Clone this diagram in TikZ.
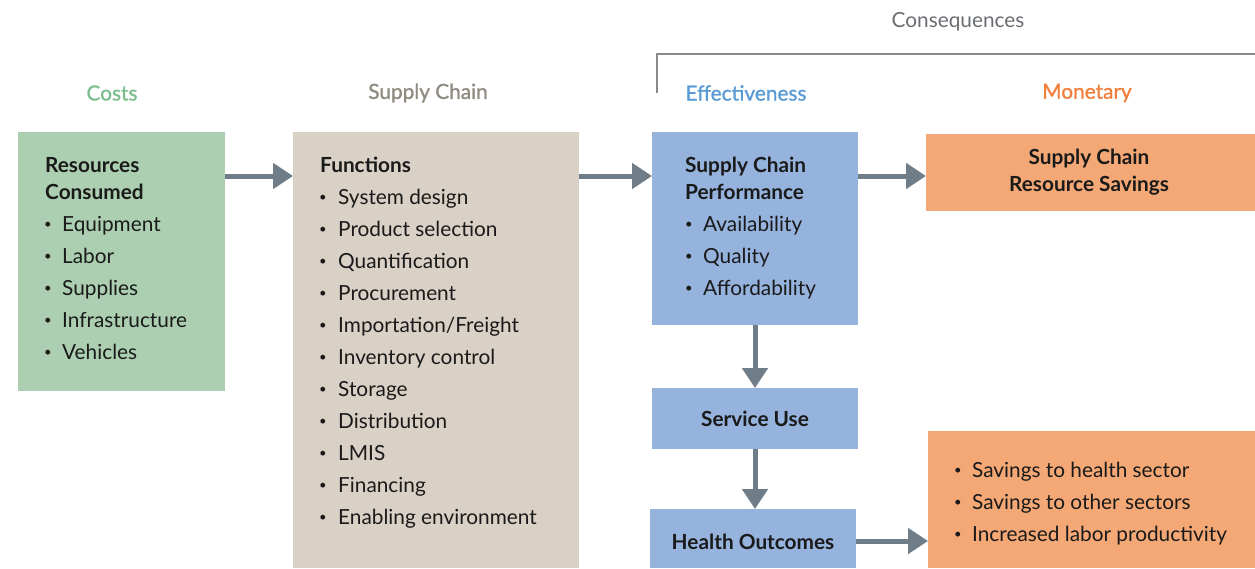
\documentclass[tikz,border=0pt]{standalone}
\usepackage{fontspec}
\setmainfont{Lato}
\newfontfamily\semib{Lato}[FakeBold=1.2]
\usetikzlibrary{arrows.meta}
\definecolor{cgreen}{HTML}{ABCFB0}
\definecolor{ctan}{HTML}{D9D0C6}
\definecolor{cblue}{HTML}{95B3DD}
\definecolor{corange}{HTML}{F4A875}
\definecolor{carrow}{HTML}{6E7D88}
\definecolor{hgreen}{HTML}{7DBE8E}
\definecolor{hgray}{HTML}{8F8B80}
\definecolor{hblue}{HTML}{5B9BD5}
\definecolor{horange}{HTML}{F07F3C}
\definecolor{hcons}{HTML}{6A6E72}
\definecolor{ctext}{HTML}{1A1A1A}
\tikzset{
  box/.style={inner sep=0pt, outer sep=0pt},
  hdr/.style={font=\fontsize{20.8}{24}\selectfont\semib, anchor=center, inner sep=0pt},
  ttl/.style={font=\fontsize{20.8}{27}\selectfont\bfseries, text=ctext, anchor=base west, inner sep=0pt},
  item/.style={font=\fontsize{20.8}{24}\selectfont, text=ctext, anchor=base west, inner sep=0pt},
  bul/.style={font=\fontsize{13}{14}\selectfont, text=ctext, anchor=center, inner sep=0pt},
  flow/.style={draw=carrow, line width=5pt, -{Triangle[length=20pt,width=25pt]}},
}
\begin{document}
\begin{tikzpicture}[x=1pt,y=-1pt]
\useasboundingbox (0,0) rectangle (1255,568);
% boxes
\node[box, fill=cgreen, minimum width=207pt, minimum height=259pt] (gbox) at (121.5,261.5) {};
\node[box, fill=ctan, minimum width=286pt, minimum height=436pt] (tbox) at (436,350) {};
\node[box, fill=cblue, minimum width=206pt, minimum height=193pt] (pbox) at (755,228.5) {};
\node[box, fill=cblue, minimum width=206pt, minimum height=61pt] (sbox) at (755,418.5) {};
\node[box, fill=cblue, minimum width=206pt, minimum height=59pt] (hbox) at (753,538.5) {};
\node[box, fill=corange, minimum width=329pt, minimum height=77pt] (rbox) at (1090.5,172.5) {};
\node[box, fill=corange, minimum width=327pt, minimum height=137pt] (obox) at (1091.5,499.5) {};
% headers
\node[hdr, text=hgreen] (hcosts) at (112,93) {Costs};
\node[hdr, text=hgray] (hsc) at (428,93) {Supply Chain};
\node[hdr, text=hblue] (heff) at (746,93) {Effectiveness};
\node[hdr, text=horange] (hmon) at (1087,93) {Monetary};
\node[font=\fontsize{20.8}{24}\selectfont, text=hcons, inner sep=0pt] (hcons) at (958,22) {Consequences};
\coordinate (br1) at (657,93);
\coordinate (br2) at (657,54);
\coordinate (br3) at (1255,54);
\draw[draw=hcons!80, line width=1.5pt] (br1) -- (br2) -- (br3);
% green box text
\node[ttl] (g1) at (45,172) {Resources};
\node[ttl] (g2) at (45,199) {Consumed};
\foreach \t [count=\i] in {Equipment,Labor,Supplies,Infrastructure,Vehicles}{
  \node[bul] (gb\i) at (48,{193+32*\i}) {\textbullet};
  \node[item] (gi\i) at (62,{199+32*\i}) {\t};
}
% tan box text
\node[ttl] (f1) at (320,172) {Functions};
\foreach \t [count=\i] in {System design,Product selection,Quantification,Procurement,Importation/Freight,Inventory control,Storage,Distribution,LMIS,Financing,Enabling environment}{
  \node[bul] (fb\i) at (323,{166+32*\i}) {\textbullet};
  \node[item] (fi\i) at (338,{172+32*\i}) {\t};
}
% performance box
\node[ttl] (p1) at (685,172) {Supply Chain};
\node[ttl] (p2) at (685,199) {Performance};
\foreach \t [count=\i] in {Availability,Quality,Affordability}{
  \node[bul] (pb\i) at (689,{193+32*\i}) {\textbullet};
  \node[item] (pi\i) at (703,{199+32*\i}) {\t};
}
\node[font=\fontsize{20.8}{24}\selectfont\bfseries, text=ctext, inner sep=0pt] (su) at (sbox) {Service Use};
\node[font=\fontsize{20.8}{24}\selectfont\bfseries, text=ctext, inner sep=0pt] (ho) at (753,542) {Health Outcomes};
\node[font=\fontsize{20.8}{27}\selectfont\bfseries, text=ctext, inner sep=0pt, align=center] (rs) at (1089,172) {Supply Chain\\Resource Savings};
\foreach \t [count=\i] in {Savings to health sector,Savings to other sectors,Increased labor productivity}{
  \node[bul] (ob\i) at (958,{439+32*\i}) {\textbullet};
  \node[item] (oi\i) at (972,{445+32*\i}) {\t};
}
% arrows
\draw[flow] (gbox.east |- 0,176) -- (tbox.west |- 0,176);
\draw[flow] (tbox.east |- 0,176) -- (pbox.west |- 0,176);
\draw[flow] (pbox.east |- 0,176) -- (rbox.west |- 0,176);
\draw[flow] (pbox.south) -- (sbox.north);
\draw[flow] (sbox.south) -- (sbox.south |- hbox.north);
\draw[flow] (hbox.east |- 0,541) -- (obox.west |- 0,541);
\end{tikzpicture}
\end{document}
